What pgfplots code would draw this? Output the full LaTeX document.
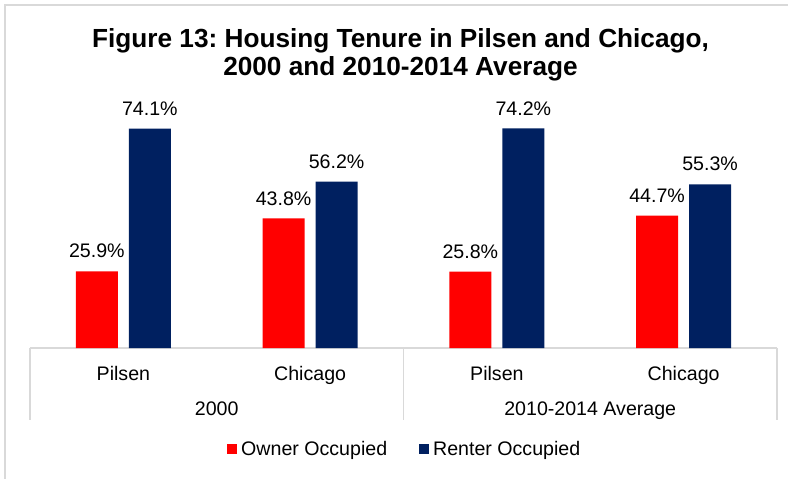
\documentclass[border=0pt]{standalone}
\usepackage{pgfplots}
\pgfplotsset{compat=1.18}
\usepackage{fontspec}
\setmainfont{Liberation Sans}
\frenchspacing
\definecolor{ownred}{HTML}{FF0000}
\definecolor{rentnavy}{HTML}{002060}
\definecolor{axgray}{HTML}{D9D9D9}
\begin{document}
\begin{tikzpicture}
\useasboundingbox (-15pt,-65pt) rectangle (379pt,174pt);
\draw[axgray, line width=0.8pt] (-12.5pt,-66pt) -- (-12.5pt,171.5pt) -- (380pt,171.5pt);
\begin{axis}[
  scale only axis,
  width=373.5pt, height=126.5pt,
  ybar, bar width=21pt,
  ymin=0, ymax=85.5,
  xmin=-0.5, xmax=3.5,
  axis x line=bottom, axis y line=none,
  x axis line style={draw=axgray, line width=0.8pt, -},
  xtick=data, ytick=\empty,
  xticklabels={Pilsen, Chicago, Pilsen, Chicago},
  major tick length=0pt,
  xticklabel style={anchor=base, yshift=-16pt, font=\fontsize{9.8}{11.8}\selectfont},
  /pgf/number format/assume math mode=true,
  nodes near coords={\pgfmathprintnumber[fixed,fixed zerofill,precision=1]{\pgfplotspointmeta}\%},
  nodes near coords style={anchor=base, yshift=6.7pt, inner sep=0pt, text=black, font=\fontsize{9.8}{11.8}\selectfont},
  clip=false,
  legend columns=2,
  legend style={at={(0.503,-0.401)}, anchor=center, draw=none, fill=none,
    font=\fontsize{9.8}{11.8}\selectfont,
    /tikz/every even column/.append style={column sep=14pt}},
  legend image code/.code={\fill[#1] (0pt,-2.5pt) rectangle (5pt,2.5pt);},
]
\addplot[fill=ownred, draw=none, bar shift=-13.25pt] coordinates {(0,25.9) (1,43.8) (2,25.8) (3,44.7)};
\addplot[fill=rentnavy, draw=none, bar shift=13.25pt] coordinates {(0,74.1) (1,56.2) (2,74.2) (3,55.3)};
\legend{Owner Occupied, Renter Occupied}
\draw[axgray, line width=0.8pt] (axis cs:-0.5,0) -- ([yshift=-36pt]axis cs:-0.5,0);
\draw[axgray, line width=0.8pt] (axis cs:1.5,0) -- ([yshift=-36pt]axis cs:1.5,0);
\draw[axgray, line width=0.8pt] (axis cs:3.5,0) -- ([yshift=-36pt]axis cs:3.5,0);
\node[anchor=base, font=\fontsize{9.8}{11.8}\selectfont] at ([yshift=-33.5pt]axis cs:0.5,0) {2000};
\node[anchor=base, font=\fontsize{9.8}{11.8}\selectfont] at ([yshift=-33.5pt]axis cs:2.5,0) {2010-2014 Average};
\end{axis}
\node[anchor=base, font=\fontsize{13.1}{15}\selectfont\bfseries] at (185.25pt,150.5pt) {Figure 13: Housing Tenure in Pilsen and Chicago,};
\node[anchor=base, font=\fontsize{13.1}{15}\selectfont\bfseries] at (185.25pt,136.25pt) {2000 and 2010-2014 Average};
\end{tikzpicture}
\end{document}
